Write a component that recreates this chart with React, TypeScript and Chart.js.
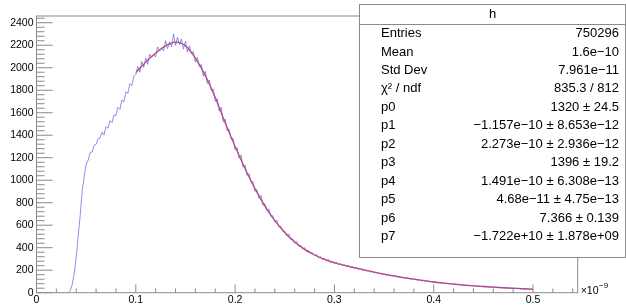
import React, { useEffect, useRef } from 'react';
import { Chart, registerables } from 'chart.js';

Chart.register(...registerables);

// Histogram: bin centres start at BIN_START, spaced BIN_WIDTH (x in units of 1e-9)
const BIN_START = 0.03;
const BIN_WIDTH = 0.002;
const HIST_COUNTS = [
  0, 0, 18, 75, 172, 318, 505, 690, 905, 1030,
  1142, 1178, 1246, 1252, 1310, 1318, 1371, 1376, 1428, 1402,
  1478, 1462, 1530, 1512, 1580, 1574, 1648, 1630, 1712, 1698,
  1785, 1772, 1858, 1840, 1922, 1940, 2010, 1960, 2055, 2004,
  2088, 2030, 2120, 2095, 2112, 2098, 2185, 2150, 2178, 2150,
  2240, 2170, 2230, 2185, 2300, 2200, 2270, 2205, 2255, 2165,
  2235, 2140, 2195, 2125, 2145, 2050, 2092, 2010, 2030, 1925,
  1968, 1860, 1890, 1800, 1810, 1700, 1725, 1615, 1648, 1520,
  1545, 1440, 1455, 1365, 1372, 1270, 1290, 1195, 1225, 1115,
  1135, 1042, 1060, 985, 988, 900, 918, 840, 866, 778,
  792, 730, 745, 680, 684, 628, 646, 584, 592, 545,
  548, 506, 521, 472, 480, 440, 455, 414, 422, 390,
  400, 364, 376, 350, 356, 326, 340, 309, 320, 294,
  304, 281, 295, 269, 279, 258, 270, 249, 258, 240,
  250, 231, 244, 224, 233, 216, 226, 207, 216, 198,
  206, 191, 200, 183, 190, 175, 184, 168, 175, 161,
  167, 154, 163, 148, 154, 142, 150, 136, 141, 130,
  135, 124, 132, 119, 125, 114, 121, 109, 115, 105,
  110, 100, 106, 96, 100, 92, 97, 88, 92, 84,
  88, 80, 86, 77, 81, 73, 79, 70, 75, 68,
  71, 64, 69, 62, 65, 59, 63, 57, 60, 54,
  57, 52, 56, 49, 53, 47, 51, 45, 48, 43,
  46, 41, 45, 40, 42, 37, 41, 36, 38, 34,
  37, 33, 35, 31, 34, 30,
];

// Fit function sampled along its range
const FIT_X = [
  0.10, 0.11, 0.12, 0.13, 0.14, 0.15, 0.16, 0.17, 0.18, 0.19,
  0.20, 0.21, 0.22, 0.23, 0.24, 0.25, 0.26, 0.27, 0.28, 0.29,
  0.30, 0.31, 0.32, 0.33, 0.34, 0.35, 0.36, 0.37, 0.38, 0.39,
  0.40, 0.41, 0.42, 0.43, 0.44, 0.45, 0.46, 0.47, 0.48, 0.49,
  0.50,
];
const FIT_Y = [
  1958, 2050, 2130, 2195, 2228, 2195, 2085, 1930, 1735, 1510,
  1300, 1105, 925, 770, 640, 535, 450, 385, 335, 297,
  267, 243, 222, 202, 183, 165, 149, 134, 120, 107,
  95, 85, 76, 68, 61, 55, 49, 44, 39.5, 35,
  31,
];

const X_TICKS = [0, 0.1, 0.2, 0.3, 0.4, 0.5];
const X_TICK_LABELS = ['0', '0.1', '0.2', '0.3', '0.4', '0.5'];
const Y_TICKS = [0, 200, 400, 600, 800, 1000, 1200, 1400, 1600, 1800, 2000, 2200, 2400];
const Y_TICK_LABELS = ['0', '200', '400', '600', '800', '1000', '1200', '1400', '1600', '1800', '2000', '2200', '2400'];
const X_EXPONENT = '−9';

const STAT_TITLE = 'h';
const STAT_LABELS = ['Entries', 'Mean', 'Std Dev', 'χ² / ndf', 'p0', 'p1', 'p2', 'p3', 'p4', 'p5', 'p6', 'p7'];
const STAT_VALUES = [
  '750296',
  '1.6e−10',
  '7.961e−11',
  '835.3 / 812',
  '1320 ± 24.5',
  '−1.157e−10 ± 8.653e−12',
  '2.273e−10 ± 2.936e−12',
  '1396 ± 19.2',
  '1.491e−10 ± 6.308e−13',
  '4.68e−11 ± 4.75e−13',
  '7.366 ± 0.139',
  '−1.722e+10 ± 1.878e+09',
];

const FONT = '"Liberation Sans", Arial, Helvetica, sans-serif';
const LINE_GREY = '#8a8a8a';

const rootStyle = {
  id: 'rootStyle',
  afterDatasetsDraw(chart: any) {
    const { ctx, chartArea: a, scales } = chart;
    const xs = scales.x;
    const ys = scales.y;
    ctx.save();
    ctx.strokeStyle = LINE_GREY;
    ctx.lineWidth = 1;
    ctx.strokeRect(a.left, a.top, a.right - a.left, a.bottom - a.top);
    ctx.beginPath();
    const xMinor = (X_TICKS[1] - X_TICKS[0]) / 5;
    for (let k = 0; k * xMinor <= xs.max + 1e-9; k++) {
      const px = xs.getPixelForValue(k * xMinor);
      const len = k % 5 === 0 ? 8.3 : 4.2;
      ctx.moveTo(px, a.bottom);
      ctx.lineTo(px, a.bottom - len);
    }
    const yMinor = (Y_TICKS[1] - Y_TICKS[0]) / 5;
    for (let k = 0; k * yMinor <= ys.max + 1e-9; k++) {
      const py = ys.getPixelForValue(k * yMinor);
      const len = k % 5 === 0 ? 16.2 : 8.1;
      ctx.moveTo(a.left, py);
      ctx.lineTo(a.left + len, py);
    }
    ctx.stroke();
    ctx.restore();
  },
  afterDraw(chart: any) {
    const { ctx, chartArea: a } = chart;
    ctx.save();
    ctx.fillStyle = '#000';
    ctx.textBaseline = 'alphabetic';
    ctx.textAlign = 'left';
    ctx.font = `10.5px ${FONT}`;
    const bx = a.right + 3;
    ctx.fillText('×10', bx, 294);
    const w = ctx.measureText('×10').width;
    ctx.font = `8px ${FONT}`;
    ctx.fillText(X_EXPONENT, bx + w + 0.5, 288);

    const L = 359.5, T = 4.5, R = 625.5, B = 257.5;
    ctx.fillStyle = '#fff';
    ctx.fillRect(L, T, R - L, B - T);
    ctx.strokeStyle = LINE_GREY;
    ctx.lineWidth = 1;
    ctx.strokeRect(L, T, R - L, B - T);
    ctx.beginPath();
    ctx.moveTo(L, 24.5);
    ctx.lineTo(R, 24.5);
    ctx.stroke();
    ctx.fillStyle = '#000';
    ctx.font = `13px ${FONT}`;
    ctx.textBaseline = 'middle';
    ctx.textAlign = 'center';
    ctx.fillText(STAT_TITLE, (L + R) / 2, 14.5);
    for (let i = 0; i < STAT_LABELS.length; i++) {
      const y = 33.5 + i * 18.45;
      ctx.textAlign = 'left';
      ctx.fillText(STAT_LABELS[i], 381, y);
      ctx.textAlign = 'right';
      ctx.fillText(STAT_VALUES[i], 619, y);
    }
    ctx.restore();
  },
};

export default function App() {
  const ref = useRef<HTMLCanvasElement | null>(null);
  useEffect(() => {
    if (!ref.current) return;
    const chart = new Chart(ref.current, {
      type: 'line',
      data: {
        datasets: [
          {
            label: 'h',
            data: HIST_COUNTS.map((c, i) => ({ x: BIN_START + i * BIN_WIDTH, y: c })),
            borderColor: 'rgba(95, 95, 225, 0.7)',
            borderWidth: 1,
            pointRadius: 0,
            tension: 0,
            fill: false,
          },
          {
            label: 'fit',
            data: FIT_X.map((x, i) => ({ x, y: FIT_Y[i] })),
            borderColor: 'rgba(228, 40, 50, 0.9)',
            borderWidth: 1.3,
            pointRadius: 0,
            cubicInterpolationMode: 'monotone',
            fill: false,
          },
        ],
      },
      options: {
        responsive: false,
        animation: false,
        events: [],
        layout: { padding: { top: 16, right: 48.3, left: 0, bottom: 0 } },
        plugins: { legend: { display: false }, tooltip: { enabled: false } },
        scales: {
          x: {
            type: 'linear',
            min: 0,
            max: 0.545,
            grid: { display: false, drawTicks: false },
            border: { display: false },
            afterBuildTicks: (s: any) => {
              s.ticks = X_TICKS.map((v) => ({ value: v }));
            },
            afterFit: (s: any) => {
              s.height = 12.3;
            },
            ticks: {
              callback: (_v: any, i: number) => X_TICK_LABELS[i],
              font: { family: FONT, size: 10.5 },
              color: '#000',
              padding: 1,
              maxRotation: 0,
              autoSkip: false,
            },
          },
          y: {
            type: 'linear',
            min: 0,
            max: 2460,
            grid: { display: false, drawTicks: false },
            border: { display: false },
            afterBuildTicks: (s: any) => {
              s.ticks = Y_TICKS.map((v) => ({ value: v }));
            },
            afterFit: (s: any) => {
              s.width = 36.5;
            },
            ticks: {
              callback: (_v: any, i: number) => Y_TICK_LABELS[i],
              font: { family: FONT, size: 10.5 },
              color: '#000',
              padding: 3,
              autoSkip: false,
            },
          },
        },
      },
      plugins: [rootStyle],
    } as any);
    return () => chart.destroy();
  }, []);
  return (
    <div style={{ position: 'fixed', left: 0, top: 0, width: 626, height: 305, background: '#fff' }}>
      <canvas ref={ref} width={626} height={305} />
    </div>
  );
}
